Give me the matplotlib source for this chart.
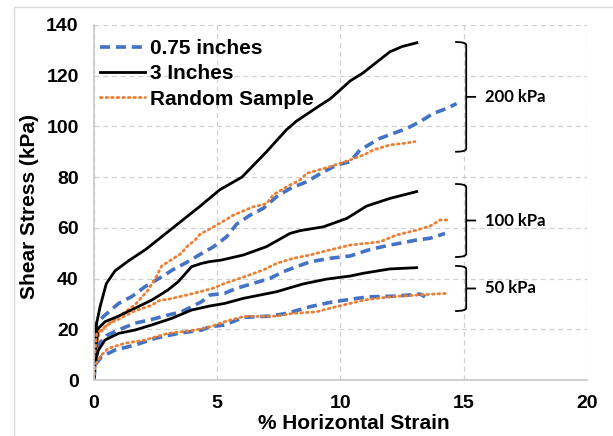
import matplotlib
matplotlib.use('Agg')
import matplotlib.pyplot as plt
from matplotlib.path import Path
from matplotlib.patches import PathPatch, Rectangle

# 0.75 inches (blue dashed)
x075_200 = [0, 0.03, 0.1, 0.45, 1.0, 1.53, 2.07, 2.75, 3.2, 3.69, 4.3, 4.84, 5.38, 5.79, 6.33, 6.87,
            7.41, 7.95, 8.63, 9.2, 9.85, 10.39, 10.79, 11.6, 12.69, 13.23, 13.76, 14.31, 14.71]
y075_200 = [0, 15, 22.4, 25.6, 30.2, 32.9, 36.8, 40.7, 43.5, 46, 49.5, 52.5, 56.5, 61.5, 65, 67.7,
            72.3, 75.5, 78.2, 81.5, 84.8, 86.1, 90.7, 95.3, 99.2, 101.9, 105.1, 107.1, 109]
x075_100 = [0, 0.05, 0.18, 0.5, 0.99, 1.66, 2.34, 3.0, 3.55, 4.37, 4.7, 5.3, 5.79, 6.46, 7.14,
            7.68, 8.22, 8.76, 9.57, 10.39, 11.2, 12.0, 13.09, 13.63, 14.24]
y075_100 = [0, 9, 14, 17.5, 19.7, 22.4, 23.9, 25.6, 26.9, 30.9, 33.5, 34.2, 36.2, 38.1, 40.1,
            42.7, 44.7, 46.6, 48, 48.9, 51.5, 53.2, 55.2, 55.9, 57.8]
x075_50 = [0, 0.04, 0.31, 0.85, 1.66, 2.47, 3.42, 4.37, 4.7, 5.3, 6.06, 7.14, 7.82, 8.76, 9.57,
           10.66, 11.2, 12.28, 13.23, 13.43]
y075_50 = [0, 5.9, 9.2, 11.8, 13.8, 16.4, 18.4, 19.7, 21, 21.7, 24.7, 25.2, 26.3, 28.9, 30.6,
           32.2, 32.8, 33.1, 33.9, 32.8]

# 3 Inches (black solid)
x3_200 = [0, 0.1, 0.25, 0.5, 0.85, 1.4, 2.1, 3.2, 4.3, 5.1, 6.0, 7.0, 7.8, 8.2, 9.2, 9.6, 10.4,
          10.9, 12.0, 12.5, 13.1]
y3_200 = [0, 22, 29, 38, 43, 47, 51.5, 60, 68.5, 75, 80, 90, 98.6, 102, 108.5, 111, 118, 121,
          129.4, 131.5, 133]
x3_100 = [0, 0.05, 0.18, 0.45, 1.0, 1.66, 2.34, 3.0, 3.42, 3.96, 4.37, 4.7, 5.17, 6.06, 7.0, 7.95,
          8.36, 9.3, 10.25, 11.06, 12.0, 13.09]
y3_100 = [0, 12, 20.4, 23, 25.2, 28.3, 31.5, 35.5, 38.8, 44.7, 46, 46.7, 47.3, 49.3, 52.6, 57.8,
          58.9, 60.4, 63.7, 68.6, 71.6, 74.3]
x3_50 = [0, 0.05, 0.18, 0.45, 1.0, 1.66, 2.34, 3.15, 3.96, 4.7, 5.3, 6.06, 7.4, 8.49, 9.44, 10.39,
         10.93, 12.0, 13.09]
y3_50 = [0, 7, 11.8, 15.8, 18.4, 19.7, 21.7, 24.3, 27.6, 29.2, 30.2, 32.2, 34.8, 37.9, 39.8, 41,
         42.1, 43.8, 44.3]

# Random Sample (orange dotted)
xr_200 = [0, 0.05, 0.2, 0.45, 0.99, 1.66, 2.2, 2.54, 2.75, 3.55, 3.76, 4.1, 4.3, 4.98, 5.65, 6.46,
          7.0, 7.27, 7.82, 8.36, 8.63, 9.57, 10.39, 10.93, 11.33, 12.0, 12.55, 13.02]
yr_200 = [0, 10, 18, 21, 25, 29.6, 35.5, 41, 45, 50, 52.5, 55.2, 57.5, 61.1, 65, 68.3,
          69.5, 73, 76.2, 78.9, 81.5, 84.1, 86.8, 88.7, 90.7, 92.7, 93.3, 94]
xr_100 = [0, 0.05, 0.11, 0.65, 1.0, 1.6, 2.34, 2.68, 3.0, 3.76, 4.37, 4.84, 5.3, 5.92, 6.87, 7.41,
          8.09, 8.76, 9.57, 10.39, 11.6, 12.28, 13.09, 13.63, 14.04, 14.37]
yr_100 = [0, 12, 18.4, 22.4, 24, 27, 29.5, 31.5, 31.8, 33.5, 35, 36.2, 38.1, 40.1, 43.4, 46,
          48, 49.3, 51.3, 53.2, 54.5, 57.2, 59.1, 60.7, 63.1, 63.1]
xr_50 = [0, 0.05, 0.31, 0.58, 1.26, 2.07, 3.0, 4.1, 4.7, 5.3, 6.06, 7.41, 8.09, 9.03, 9.57, 10.39,
         10.93, 12.0, 13.09, 13.63, 14.37]
yr_50 = [0, 6, 9.9, 12.5, 14.5, 15.8, 18.4, 19.7, 21, 23, 25, 25.2, 26.3, 26.9, 28.3, 30.2,
         31.5, 32.8, 33.5, 33.8, 34.2]

# pressure groups: label, lower, upper of brace
group_labels = ['200 kPa', '100 kPa', '50 kPa']
brace_lo = [90, 48.5, 27.2]
brace_hi = [133.3, 77.3, 45]

blue = '#4472C4'
orange = '#ED7D31'

fig = plt.figure(figsize=(6.13, 4.36), dpi=100)
ax = fig.add_axes([0.1533, 0.1284, 0.8043, 0.8143])

fig.patches.append(Rectangle((14 / 613, -0.05), 1.1, 1.05 - 7 / 436, transform=fig.transFigure,
                             fill=False, edgecolor='#d9d9d9', lw=1))

dash = dict(color=blue, lw=2.6, linestyle=(0, (2.8, 1.6)))
solid = dict(color='black', lw=2.0)
dot = dict(color=orange, lw=2.0, linestyle=(0, (0.6, 1.4)), dash_capstyle='round')

l1, = ax.plot(x075_200, y075_200, label='0.75 inches', **dash)
l2, = ax.plot(x3_200, y3_200, label='3 Inches', **solid)
l3, = ax.plot(xr_200, yr_200, label='Random Sample', **dot)
ax.plot(x075_100, y075_100, **dash)
ax.plot(x3_100, y3_100, **solid)
ax.plot(xr_100, yr_100, **dot)
ax.plot(x075_50, y075_50, **dash)
ax.plot(x3_50, y3_50, **solid)
ax.plot(xr_50, yr_50, **dot)

ax.set_xlim(0, 20)
ax.set_ylim(0, 140)
ax.set_xticks([0, 5, 10, 15, 20])
ax.set_yticks(range(0, 141, 20))
ax.grid(True, color='#d0d0d0', linestyle=(0, (4, 3)), lw=0.9)
ax.set_axisbelow(True)
for s in ['top', 'right']:
    ax.spines[s].set_visible(False)
for s in ['left', 'bottom']:
    ax.spines[s].set_color('#c8c8c8')
    ax.spines[s].set_linewidth(1.2)
ax.tick_params(length=0, pad=11)
for lab in ax.get_xticklabels() + ax.get_yticklabels():
    lab.set_fontfamily('Liberation Sans')
    lab.set_fontweight('bold')
    lab.set_fontsize(14)

ax.set_xlabel('% Horizontal Strain', fontfamily='Liberation Sans', fontweight='bold', fontsize=15)
ax.set_ylabel('Shear Stress (kPa)', fontfamily='Liberation Sans', fontweight='bold', fontsize=15)
ax.xaxis.set_label_coords(0.528, -0.097)
ax.yaxis.set_label_coords(-0.111, 0.49)

leg = ax.legend(handles=[l1, l2, l3], loc='upper left', bbox_to_anchor=(6 / 493, 0.96), frameon=False,
                handlelength=2.15, handletextpad=0.25, labelspacing=0.3, borderaxespad=0, borderpad=0,
                prop=dict(family='Liberation Sans', weight='bold', size=15))

# curly braces marking each normal stress group
bx0, bx1, bx2 = 14.65, 15.1, 15.5
for lab, lo, hi in zip(group_labels, brace_lo, brace_hi):
    mid = (lo + hi) / 2
    r = 1.2
    verts = [(bx0, hi), (bx1, hi), (bx1, hi - r), (bx1, lo + r), (bx1, lo), (bx0, lo),
             (bx1, mid), (bx2, mid)]
    codes = [Path.MOVETO, Path.CURVE3, Path.CURVE3, Path.LINETO, Path.CURVE3, Path.CURVE3,
             Path.MOVETO, Path.LINETO]
    ax.add_patch(PathPatch(Path(verts, codes), fill=False, edgecolor='black', lw=1.3, clip_on=False))
    ax.text(bx2 + 0.35, mid, lab, ha='left', va='center', fontfamily='Lato', fontweight='bold',
            fontsize=12)

fig.savefig('out.png', dpi=100)
